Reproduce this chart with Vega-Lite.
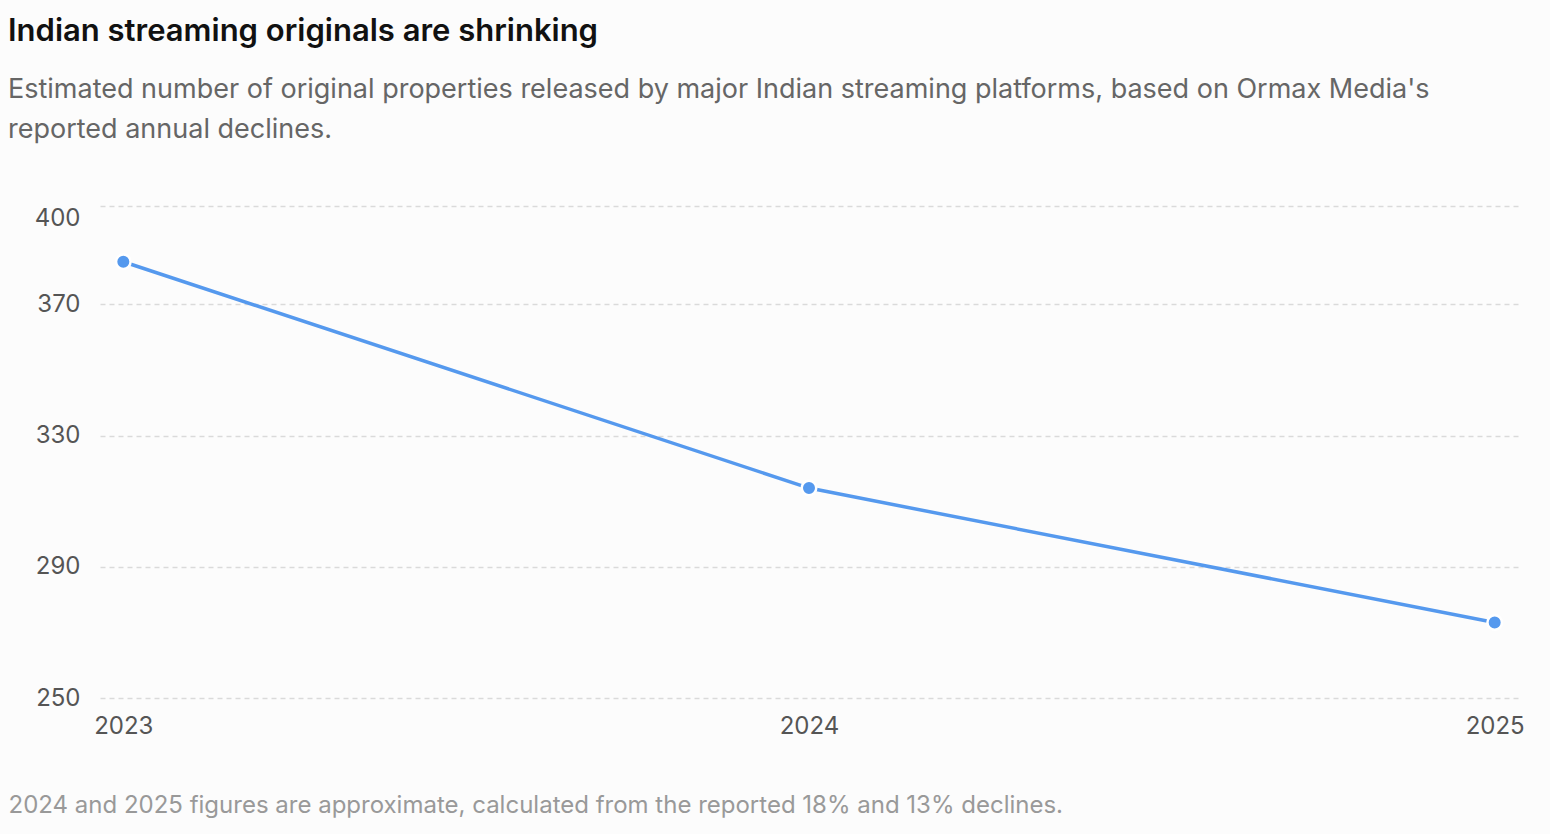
{
  "$schema": "https://vega.github.io/schema/vega-lite/v6.json",
  "autosize": "none",
  "width": 1418,
  "height": 492,
  "padding": {"left": 100, "top": 206, "right": 32, "bottom": 136},
  "background": "#fcfcfc",
  "config": {
    "font": "Inter",
    "view": {"stroke": null}
  },
  "title": {
    "text": "Indian streaming originals are shrinking",
    "subtitle": [
      "Estimated number of original properties released by major Indian streaming platforms, based on Ormax Media's",
      "reported annual declines."
    ],
    "anchor": "start",
    "frame": "group",
    "dx": -92,
    "offset": 62,
    "fontSize": 31,
    "fontWeight": 600,
    "color": "#111111",
    "subtitleFontSize": 27,
    "subtitleColor": "#666666",
    "subtitleLineHeight": 40,
    "subtitlePadding": 29
  },
  "data": {
    "values": [
      {"year": "2023", "originals": 383},
      {"year": "2024", "originals": 314},
      {"year": "2025", "originals": 273}
    ]
  },
  "encoding": {
    "x": {
      "field": "year",
      "type": "ordinal",
      "sort": null,
      "scale": {"type": "point", "padding": 0.034},
      "axis": {
        "labelAngle": 0,
        "labelFontSize": 24,
        "labelColor": "#555555",
        "labelPadding": 16,
        "ticks": false,
        "domain": false,
        "grid": false,
        "title": "2024 and 2025 figures are approximate, calculated from the reported 18% and 13% declines.",
        "titleFontSize": 24,
        "titleFontWeight": "normal",
        "titleColor": "#999999",
        "titleAnchor": "start",
        "titleAlign": "left",
        "titleBaseline": "alphabetic",
        "titleX": -92,
        "titleY": 114
      }
    },
    "y": {
      "field": "originals",
      "type": "quantitative",
      "scale": {"domain": [250, 400], "nice": false, "zero": false},
      "axis": {
        "values": [250, 290, 330, 370, 400],
        "title": null,
        "labelFontSize": 24,
        "labelColor": "#555555",
        "labelPadding": 20,
        "labelBaseline": {"condition": {"test": "datum.value == 400", "value": "top"}, "value": "middle"},
        "ticks": false,
        "domain": false,
        "gridColor": "#dadada",
        "gridDash": [5, 4],
        "gridWidth": 1.5
      }
    }
  },
  "layer": [
    {
      "mark": {"type": "line", "color": "#5599ee", "strokeWidth": 3.5}
    },
    {
      "mark": {"type": "point", "filled": true, "color": "#5599ee", "size": 210, "opacity": 1, "stroke": "#ffffff", "strokeWidth": 2.5}
    }
  ]
}
